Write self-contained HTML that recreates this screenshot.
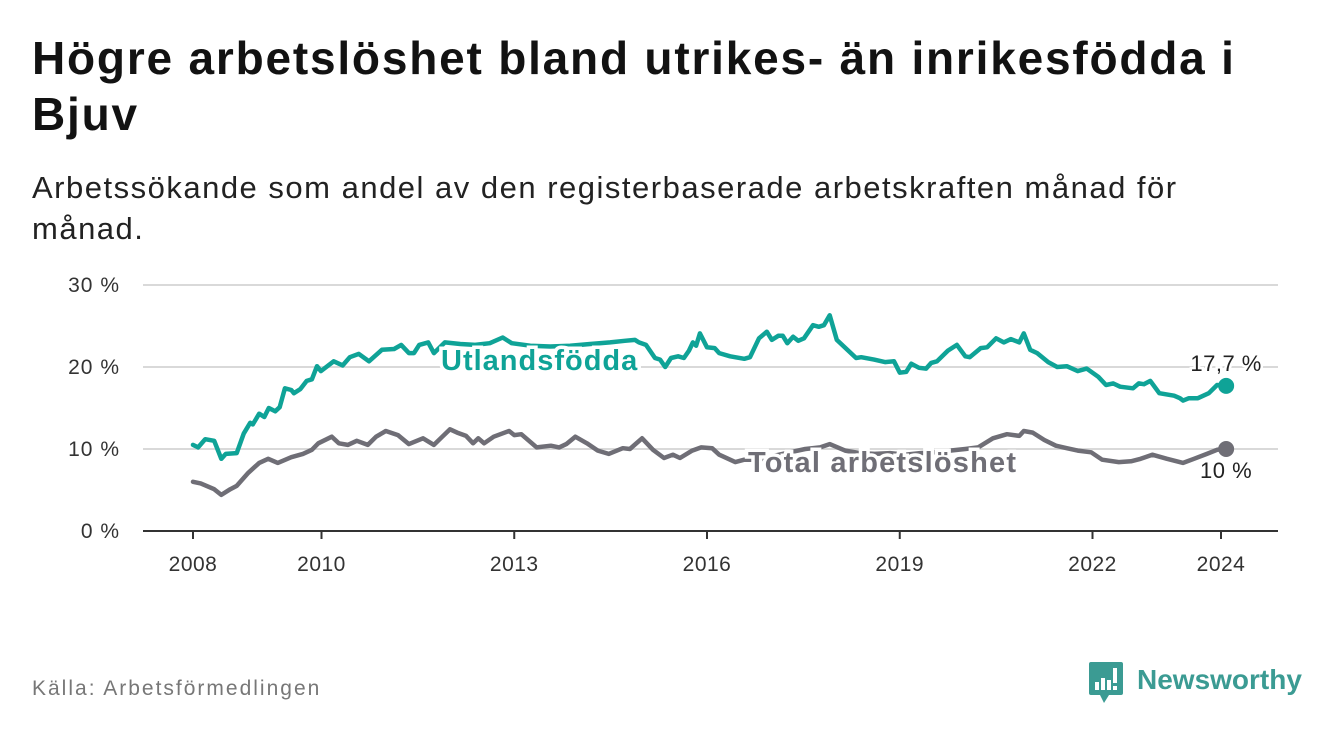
<!DOCTYPE html>
<html><head><meta charset="utf-8">
<style>
html,body{margin:0;padding:0;background:#fff;}
body{width:1340px;height:734px;position:relative;overflow:hidden;font-family:"Liberation Sans",sans-serif;color:#111;}
#title{position:absolute;left:32px;top:30px;width:1300px;font-size:46px;font-weight:bold;line-height:56px;margin:0;color:#121212;letter-spacing:1.8px;}
#subtitle{position:absolute;left:32px;top:167px;width:1300px;font-size:31px;line-height:41px;margin:0;color:#222;letter-spacing:1.5px;}
#source{position:absolute;left:32px;top:677px;font-size:21px;color:#777;letter-spacing:2px;}
#logo{position:absolute;left:1089px;top:662px;}
#chart{position:absolute;left:0;top:0;}
</style></head><body>
<h1 id="title">Högre arbetslöshet bland utrikes- än inrikesfödda i<br>Bjuv</h1>
<p id="subtitle">Arbetssökande som andel av den registerbaserade arbetskraften månad för<br>månad.</p>
<svg id="chart" width="1340" height="734"></svg>
<div id="source">Källa: Arbetsförmedlingen</div>
<svg id="logo" width="225" height="45">
<path d="M2 0h30a2 2 0 0 1 2 2v29a2 2 0 0 1-2 2H20l-5 8-4-8H2a2 2 0 0 1-2-2V2a2 2 0 0 1 2-2z" fill="#3b9b93"/>
<rect x="6" y="20" width="4" height="8" fill="#fff"/><rect x="12" y="16" width="4" height="12" fill="#fff"/><rect x="18" y="18" width="4" height="10" fill="#fff"/><rect x="24" y="6" width="4" height="15" fill="#fff"/><rect x="24" y="24" width="4" height="4" fill="#fff"/>
<text x="48" y="27" font-family="Liberation Sans, sans-serif" font-weight="bold" font-size="28" fill="#3b9b93">Newsworthy</text>
</svg>
<script>
const yTicks=[0,10,20,30];
const yTickLabels=["0 %","10 %","20 %","30 %"];
const xTicks=[2008,2010,2013,2016,2019,2022,2024];
const utlDates=[2008.00,2008.08,2008.19,2008.33,2008.44,2008.51,2008.68,2008.79,2008.89,2008.93,2009.03,2009.11,2009.18,2009.28,2009.35,2009.43,2009.53,2009.57,2009.67,2009.77,2009.85,2009.93,2009.99,2010.19,2010.33,2010.44,2010.58,2010.74,2010.94,2011.13,2011.24,2011.36,2011.44,2011.52,2011.66,2011.75,2011.92,2012.16,2012.39,2012.62,2012.82,2012.96,2013.25,2013.56,2013.87,2014.18,2014.49,2014.72,2014.88,2014.94,2015.05,2015.19,2015.27,2015.35,2015.44,2015.55,2015.64,2015.72,2015.78,2015.83,2015.89,2016.00,2016.12,2016.19,2016.36,2016.58,2016.67,2016.81,2016.93,2017.01,2017.11,2017.18,2017.25,2017.34,2017.42,2017.51,2017.65,2017.74,2017.82,2017.91,2018.02,2018.32,2018.40,2018.60,2018.77,2018.91,2019.00,2019.10,2019.18,2019.30,2019.41,2019.49,2019.58,2019.75,2019.89,2020.02,2020.09,2020.26,2020.36,2020.50,2020.62,2020.73,2020.86,2020.93,2021.03,2021.14,2021.31,2021.45,2021.60,2021.77,2021.91,2022.09,2022.21,2022.32,2022.43,2022.63,2022.72,2022.80,2022.90,2023.04,2023.27,2023.36,2023.41,2023.50,2023.64,2023.81,2023.94,2024.08];
const utlValues=[10.5,10.2,11.2,11.0,8.8,9.4,9.5,11.9,13.2,13.0,14.3,13.9,15.0,14.6,15.1,17.4,17.2,16.8,17.3,18.3,18.5,20.1,19.5,20.7,20.2,21.2,21.6,20.7,22.1,22.2,22.7,21.7,21.7,22.7,23.0,21.7,23.0,22.8,22.7,22.9,23.6,22.9,22.6,22.5,22.6,22.8,23.0,23.2,23.3,23.0,22.7,21.1,20.9,20.0,21.1,21.3,21.1,22.0,23.0,22.6,24.1,22.4,22.3,21.7,21.3,21.0,21.2,23.5,24.3,23.3,23.8,23.8,22.9,23.7,23.2,23.5,25.1,24.9,25.1,26.3,23.3,21.1,21.2,20.9,20.6,20.7,19.3,19.4,20.4,19.9,19.8,20.5,20.7,22.0,22.7,21.3,21.2,22.3,22.4,23.5,23.0,23.4,23.0,24.1,22.1,21.7,20.6,20.0,20.1,19.5,19.8,18.8,17.8,18.0,17.6,17.4,18.0,17.9,18.3,16.8,16.5,16.2,15.9,16.2,16.2,16.8,17.8,17.7];
const totDates=[2008.00,2008.12,2008.33,2008.44,2008.58,2008.68,2008.86,2009.03,2009.17,2009.32,2009.53,2009.71,2009.85,2009.95,2010.16,2010.27,2010.41,2010.55,2010.72,2010.85,2011.00,2011.19,2011.36,2011.58,2011.75,2011.88,2012.00,2012.11,2012.25,2012.36,2012.44,2012.53,2012.68,2012.92,2013.00,2013.11,2013.35,2013.57,2013.70,2013.81,2013.95,2014.13,2014.30,2014.47,2014.69,2014.80,2014.99,2015.16,2015.33,2015.47,2015.58,2015.77,2015.91,2016.08,2016.19,2016.44,2016.58,2016.82,2017.06,2017.29,2017.53,2017.76,2017.91,2018.15,2018.38,2018.61,2018.85,2019.08,2019.32,2019.55,2019.78,2020.02,2020.22,2020.45,2020.67,2020.86,2020.93,2021.07,2021.25,2021.43,2021.60,2021.77,2021.98,2022.15,2022.41,2022.60,2022.75,2022.93,2023.16,2023.41,2023.58,2023.78,2023.94,2024.08];
const totValues=[6.0,5.8,5.1,4.4,5.1,5.5,7.1,8.3,8.8,8.3,9.0,9.4,9.9,10.7,11.5,10.7,10.5,11.0,10.5,11.5,12.2,11.7,10.6,11.3,10.5,11.5,12.4,12.0,11.6,10.7,11.3,10.7,11.5,12.2,11.7,11.8,10.2,10.4,10.2,10.6,11.5,10.7,9.8,9.4,10.1,10.0,11.3,9.9,8.9,9.3,8.9,9.8,10.2,10.1,9.3,8.4,8.7,8.7,9.2,9.6,10.0,10.2,10.6,9.8,9.5,9.4,9.5,9.3,9.5,9.6,9.8,10.0,10.2,11.3,11.8,11.6,12.2,12.0,11.1,10.4,10.1,9.8,9.6,8.7,8.4,8.5,8.8,9.3,8.8,8.3,8.8,9.4,9.9,10.0];

const svg=document.getElementById('chart');
const NS='http://www.w3.org/2000/svg';
const x0=193,x1=1221,yBase=531,yTop=285;
function xs(t){return x0+(t-2008)*(x1-x0)/16;}
function ys(v){return yBase-(v/30)*(yBase-yTop);}
function mk(tag,attrs,parent){const e=document.createElementNS(NS,tag);for(const k in attrs)e.setAttribute(k,attrs[k]);(parent||svg).appendChild(e);return e;}

yTicks.forEach((v,i)=>{
  if(v>0){const g=mk('line',{x1:143,x2:1278,y1:ys(v),y2:ys(v),stroke:'#d9d9d9','stroke-width':2});
  
  }
  const t=mk('text',{x:120,y:ys(v)+7,'text-anchor':'end','font-size':21,'letter-spacing':1,fill:'#333','font-family':'Liberation Sans, sans-serif'});
  t.textContent=yTickLabels[i];
  
  
});
const ax=mk('line',{x1:143,x2:1278,y1:yBase,y2:yBase,stroke:'#333','stroke-width':2});


xTicks.forEach(yr=>{
  const tk=mk('line',{x1:xs(yr),x2:xs(yr),y1:yBase,y2:yBase+8,stroke:'#333','stroke-width':2});
  
  
  const t=mk('text',{x:xs(yr),y:571,'text-anchor':'middle','font-size':21,'letter-spacing':0.5,fill:'#333','font-family':'Liberation Sans, sans-serif'});
  t.textContent=yr;
  
  
});
function line(d,v,color,name){
  const p=d.map((t,i)=>(i?'L':'M')+xs(t).toFixed(1)+' '+ys(v[i]).toFixed(1)).join(' ');
  const el=mk('path',{d:p,fill:'none',stroke:color,'stroke-width':4.5,'stroke-linejoin':'round','stroke-linecap':'round'});
  
  
  const n=d.length-1;
  const c=mk('circle',{cx:xs(d[n]),cy:ys(v[n]),r:8,fill:color});
  
  
}
line(totDates,totValues,'#6f6e76','total-line');
line(utlDates,utlValues,'#0fa397','utlandsfodda-line');
function lab(x,y,txt,color,name,size,bold,anchor,ls){
  const t=mk('text',{x:x,y:y,'font-size':size,'font-weight':bold?'bold':'normal','letter-spacing':ls||0,fill:color,stroke:'#fff','stroke-width':bold?7:5,'paint-order':'stroke','text-anchor':anchor||'start','font-family':'Liberation Sans, sans-serif'});
  t.textContent=txt;
  
  
}
lab(441,370,'Utlandsfödda','#0fa397','utlandsfodda-label',29,true,'start',1);
lab(748,472,'Total arbetslöshet','#6f6e76','total-label',29,true,'start',1.2);
const n1=utlValues.length-1, n2=totValues.length-1;
lab(xs(utlDates[n1]),ys(utlValues[n1])-15,utlValues[n1].toString().replace('.',',')+' %','#222','utlandsfodda-value-label',22,false,'middle',0.5);
lab(xs(totDates[n2]),ys(totValues[n2])+29,totValues[n2].toFixed(0)+' %','#222','total-value-label',22,false,'middle',0.5);
</script>
</body></html>
